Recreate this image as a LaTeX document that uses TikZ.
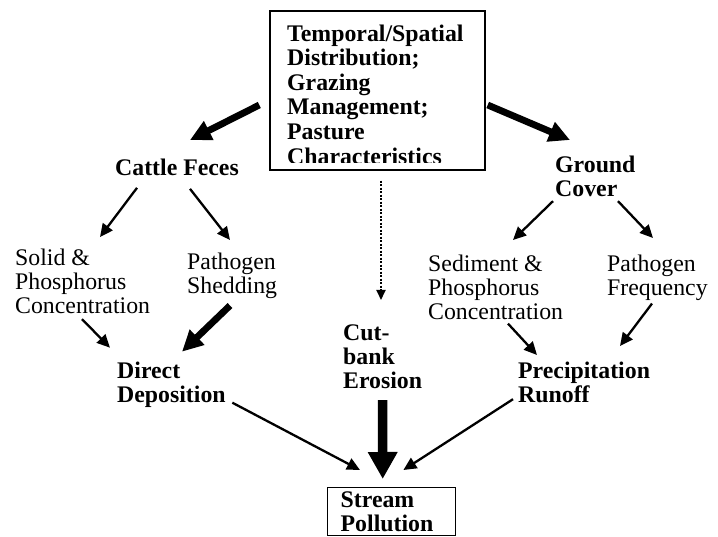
\documentclass[tikz,border=0pt]{standalone}
\usepackage{fontspec}
\setmainfont{Liberation Serif}
\usetikzlibrary{arrows.meta}
\usetikzlibrary{calc}
\usetikzlibrary{positioning}
\tikzset{
  lbl/.style={anchor=north west, inner sep=0pt, align=left, font=\fontsize{23.8}{24}\selectfont},
  lblbold/.style={lbl, font=\fontsize{23.8}{24}\selectfont\bfseries},
  thinarr/.style={line width=2.3pt, -{Triangle[length=13pt,width=12pt]}},
  thickarr/.style={line width=6.8pt, -{Triangle[length=21pt,width=20pt]}},
  hugearr/.style={line width=9.5pt, -{Triangle[length=27pt,width=28pt]}},
  dotarr/.style={line width=1.8pt, dash pattern=on 2pt off 1.5pt, -{Triangle[length=10pt,width=9pt]}}
}

\begin{document}
\begin{tikzpicture}[x=1pt, y=-1pt]
\useasboundingbox (0,0) rectangle (718,537);
\node[draw, line width=1.4pt, minimum width=215pt, minimum height=159pt, inner sep=0pt] (src) at (377.5,90.5) {};
\begin{scope}
\clip (src.north west) rectangle ($(src.south east)+(0,-8.3)$);
\node[lblbold, font=\fontsize{23.8}{24.6}\selectfont\bfseries] (srctext) at (287,24.4) {Temporal/Spatial\\ Distribution;\\ Grazing\\ Management;\\ Pasture\\ Characteristics};
\end{scope}
\node[lblbold] (cattle) at (115,158.7) {Cattle Feces};
\node[lbl] (solid) at (15,249) {Solid \&\\ Phosphorus\\ Concentration};
\node[lbl] (pshed) at (187,252.5) {Pathogen\\ Shedding};
\node[lblbold] (direct) at (117,361.7) {Direct\\ Deposition};
\node[lblbold] (cut) at (343,324.7) {Cut-\\ bank\\ Erosion};
\node[lblbold] (ground) at (555,156) {Ground\\ Cover};
\node[lbl] (sed) at (428,254.5) {Sediment \&\\ Phosphorus\\ Concentration};
\node[lbl] (pfreq) at (607,254.5) {Pathogen\\ Frequency};
\node[lblbold] (precip) at (518,362) {Precipitation\\ Runoff};
\node[draw, line width=1.4pt, lblbold, inner xsep=13pt, inner ysep=4pt, text width=102pt, minimum height=48pt] (stream) at (327,487) {Stream\\ Pollution};

\draw[thickarr] ($(src.west)+(-10,14.5)$) -- ($(cattle.north west)+(75,-18.7)$);
\draw[thickarr] ($(src.east)+(2,14.5)$) -- ($(ground.north west)+(15,-16)$);
\draw[dotarr] ($(src.south)+(3.5,10)$) -- ($(cut.north west)+(38,-24.7)$);
\draw[thinarr] ($(cattle.south west)+(22,12)$) -- ($(solid.north west)+(85,-12)$);
\draw[thinarr] ($(cattle.south west)+(75,13)$) -- ($(pshed.north west)+(43,-12.5)$);
\draw[thinarr] ($(solid.south west)+(67,5)$) -- ($(direct.north west)+(-7,-14)$);
\draw[thickarr] ($(pshed.south west)+(43,7)$) -- ($(direct.north west)+(65,-10)$);
\draw[thinarr] ($(ground.south west)+(-2,4)$) -- ($(sed.north west)+(85,-14.5)$);
\draw[thinarr] ($(ground.south west)+(63,4)$) -- ($(pfreq.north west)+(46,-16.5)$);
\draw[thinarr] ($(sed.south west)+(80,4)$) -- ($(precip.north west)+(19,-7)$);
\draw[thinarr] ($(pfreq.south west)+(45,3)$) -- ($(precip.north west)+(102,-16)$);
\draw[thinarr] ($(direct.south east)+(6.5,-5)$) -- ($(stream.north west)+(33,-17)$);
\draw[hugearr] ($(cut.south)+(0,11)$) -- ($(stream.north)+(-9,-8)$);
\draw[thinarr] ($(precip.south west)+(-5,-4)$) -- ($(stream.north east)+(-53,-17)$);
\end{tikzpicture}
\end{document}
